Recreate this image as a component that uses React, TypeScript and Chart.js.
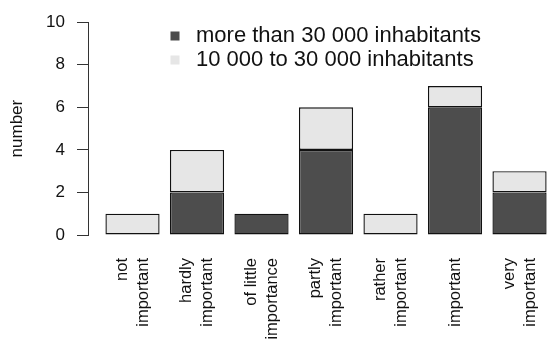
import { useEffect, useRef } from 'react';
import { Chart, registerables } from 'chart.js';

Chart.register(...registerables);

// ---- data ----
const categories: string[][] = [
  ['not', 'important'],
  ['hardly', 'important'],
  ['of little', 'importance'],
  ['partly', 'important'],
  ['rather', 'important'],
  ['important'],
  ['very', 'important'],
];
const seriesNames = ['more than 30 000 inhabitants', '10 000 to 30 000 inhabitants'];
const over30k = [0, 2, 1, 4, 0, 6, 2];
const from10kTo30k = [1, 2, 0, 2, 1, 1, 1];
const yTicks = [0, 2, 4, 6, 8, 10];
const yLabel = 'number';

// ---- styling ----
const FONT = "'Liberation Sans', Arial, Helvetica, sans-serif";
const DARK = '#4d4d4d';
const LIGHT = '#e6e6e6';
const EDGE = '#111111';
const X_MIN = -0.69;
const X_MAX = 6.457;
const LEGEND_LEFT = 163;
const LEGEND_TOP = 23;

const legendPlacer = {
  id: 'legendPlacer',
  afterLayout(chart: any) {
    const lg = chart.legend;
    if (!lg) return;
    const w = lg.width;
    const h = lg.height;
    lg.left = LEGEND_LEFT;
    lg.right = LEGEND_LEFT + w;
    lg.top = LEGEND_TOP;
    lg.bottom = LEGEND_TOP + h;
    if (typeof lg.adjustHitBoxes === 'function') lg.adjustHitBoxes();
  },
};

export default function App() {
  const ref = useRef<HTMLCanvasElement>(null);
  useEffect(() => {
    document.body.style.margin = '0';
    const canvas = ref.current;
    if (!canvas) return;
    const toPoints = (vals: number[]) => vals.map((v, i) => ({ x: i, y: v }));
    const lineCount = (c: any) => {
      const v = c && c.tick ? c.tick.value : 0;
      const l = categories[v];
      return l ? l.length : 2;
    };
    const chart = new Chart(canvas, {
      type: 'bar',
      data: {
        datasets: [
          {
            label: seriesNames[0],
            data: toPoints(over30k),
            backgroundColor: DARK,
            borderColor: EDGE,
            borderWidth: 1.4,
            borderSkipped: false,
          },
          {
            label: seriesNames[1],
            data: toPoints(from10kTo30k),
            backgroundColor: LIGHT,
            borderColor: EDGE,
            borderWidth: 1.4,
            borderSkipped: false,
          },
        ],
      } as any,
      options: {
        animation: false,
        responsive: false,
        layout: { padding: { top: 11, right: 1, bottom: 0, left: 0 } },
        datasets: { bar: { categoryPercentage: 1, barPercentage: 0.84 } } as any,
        scales: {
          x: {
            type: 'linear',
            stacked: true,
            offset: false,
            min: X_MIN,
            max: X_MAX,
            grid: { display: false, drawTicks: false },
            border: { display: false },
            ticks: {
              stepSize: 1,
              includeBounds: false,
              autoSkip: false,
              minRotation: 90,
              maxRotation: 90,
              padding: 23,
              labelOffset: -10.5,
              color: '#111',
              font: (c: any) => ({
                family: FONT,
                size: 16.5,
                lineHeight: lineCount(c) === 1 ? 0.636 : 1.27,
              }),
              callback: (v: any) => {
                const l = categories[Number(v)];
                if (!l) return '';
                return l.length === 1 ? ['', l[0]] : l;
              },
            },
            afterFit: (s: any) => {
              s.height = 115;
              s.paddingLeft = 0;
              s.paddingRight = 0;
            },
          } as any,
          y: {
            stacked: true,
            min: yTicks[0],
            max: yTicks[yTicks.length - 1],
            ticks: {
              stepSize: yTicks[1] - yTicks[0],
              padding: 12,
              color: '#111',
              font: { family: FONT, size: 17 },
            },
            grid: { drawOnChartArea: false, drawTicks: true, tickLength: 11, color: '#333' },
            border: { display: true, color: '#333' },
            title: {
              display: true,
              text: yLabel,
              color: '#111',
              font: { family: FONT, size: 17 },
              padding: { top: 7, bottom: 0 },
            },
            afterFit: (s: any) => {
              s.width = 88;
            },
          } as any,
        },
        plugins: {
          tooltip: { enabled: false },
          legend: {
            position: 'chartArea' as any,
            align: 'start',
            labels: {
              font: { family: FONT, size: 22 },
              color: '#111',
              usePointStyle: true,
              pointStyle: 'rect',
              boxWidth: 20,
              boxHeight: 9,
              padding: 2,
              generateLabels: (ch: any) =>
                Chart.defaults.plugins.legend.labels.generateLabels(ch).map((it: any) => ({
                  ...it,
                  lineWidth: 0,
                  strokeStyle: 'rgba(0,0,0,0)',
                })),
            },
          },
        },
      },
      plugins: [legendPlacer],
    });
    return () => chart.destroy();
  }, []);
  return (
    <div style={{ position: 'fixed', left: 0, top: 0, width: 550, height: 350, background: '#fff' }}>
      <canvas ref={ref} width={550} height={350} style={{ display: 'block' }} />
    </div>
  );
}
